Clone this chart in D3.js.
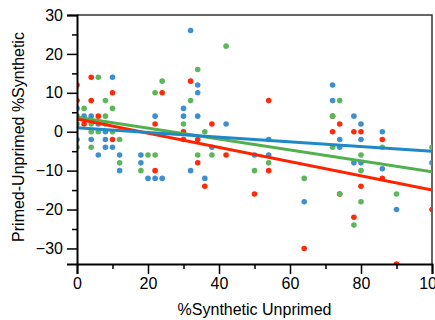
<!DOCTYPE html>
<html>
<head>
<meta charset="utf-8">
<script src="https://cdn.jsdelivr.net/npm/d3@7"></script>
<style>
  body { margin: 0; background: #fff; }
  svg { display: block; font-family: "Liberation Sans", Arial, Helvetica, sans-serif; }
</style>
</head>
<body>
<svg id="chart" width="435" height="320"></svg>
<script>
// data
var seriesNames = ["red", "green", "blue"];
var seriesColors = ["#ff2a0a", "#5cb65a", "#3f8fcf"];
var lineColors = ["#ff2200", "#52b04d", "#1f88c6"];

var redPoints = [[0,12],[0,8],[2,2],[4,14],[4,8],[6,4],[10,10],[10,-2],[22,2],[22,-10],[24,10],
  [30,0],[30,-2],[32,13],[34,-2],[34,-8],[36,-14],[38,2],[42,-6],[50,-16],[54,8],[54,-10],
  [64,-30],[72,4],[72,0],[74,2],[74,-16],[78,0],[78,-22],[80,0],[80,-14],[86,-2],[86,-12],
  [90,-34],[100,-20]];
var greenPoints = [[0,2],[0,-4],[2,6],[4,2],[4,0],[4,-4],[6,14],[6,0],[8,8],[8,4],[8,2],[10,6],
  [10,0],[12,-2],[12,-8],[18,-10],[20,-6],[22,10],[22,-6],[24,13],[30,2],[32,8],[34,16],[34,-6],
  [36,0],[38,-6],[42,22],[50,-10],[54,-8],[64,-12],[72,4],[72,-4],[74,8],[74,-16],[78,-24],
  [80,-6],[80,-10],[80,-18],[86,-4],[90,-16],[100,-4]];
var bluePoints = [[0,6],[0,4],[0,-2],[2,4],[4,4],[4,-2],[6,2],[6,-6],[8,0],[8,-2],[8,-4],[10,14],
  [10,-4],[12,-6],[12,-10],[18,-6],[18,-8],[20,-12],[22,4],[22,-12],[24,-12],[30,6],[30,4],
  [32,26],[32,-10],[34,12],[34,10],[34,4],[36,-12],[38,-4],[42,2],[50,-6],[54,-2],[54,-6],
  [64,-18],[72,12],[72,8],[74,-2],[74,-4],[78,4],[78,-8],[80,2],[80,-2],[80,-8],[86,0],
  [86,-9.5],[90,-20],[100,-8]];

// fitted lines: value at x=0 and slope per unit
var fitIntercepts = [3.3, 3.7, 1.0];
var fitSlopes = [-0.183, -0.14, -0.06];

var xTicks = [0, 20, 40, 60, 80, 100];
var xMinor = [10, 30, 50, 70, 90];
var yTicks = [-30, -20, -10, 0, 10, 20, 30];
var yMinor = [-25, -15, -5, 5, 15, 25];

var svg = d3.select("#chart");

var x = d3.scaleLinear().domain([0, 100]).range([77, 432]);
var y = d3.scaleLinear().domain([-34, 30]).range([264, 15]);

svg.append("clipPath")
  .attr("id", "plot-clip")
  .append("rect")
    .attr("x", x(0))
    .attr("y", y(30))
    .attr("width", x(100) - x(0))
    .attr("height", y(-34) - y(30));

// frame top and right
svg.append("path")
  .attr("d", "M" + x(0) + "," + y(30) + "H" + x(100) + "V" + y(-34))
  .style("fill", "none")
  .style("stroke", "#333")
  .style("stroke-width", 1.5);

var plot = svg.append("g").attr("clip-path", "url(#plot-clip)");

var allPoints = [redPoints, greenPoints, bluePoints];
allPoints.forEach(function (pts, i) {
  plot.append("g")
    .attr("class", "dots-" + seriesNames[i])
    .selectAll("circle")
    .data(pts)
    .enter().append("circle")
      .attr("cx", function (d) { return x(d[0]); })
      .attr("cy", function (d) { return y(d[1]); })
      .attr("r", 2.8)
      .style("fill", seriesColors[i]);
});

// regression lines, blue drawn last
var lineOrder = [1, 0, 2];
lineOrder.forEach(function (i) {
  plot.append("line")
    .attr("x1", x(0))
    .attr("y1", y(fitIntercepts[i]))
    .attr("x2", x(100))
    .attr("y2", y(fitIntercepts[i] + fitSlopes[i] * 100))
    .style("stroke", lineColors[i])
    .style("stroke-width", 3);
});

// axes
svg.append("g")
  .attr("transform", "translate(0," + y(-34) + ")")
  .call(d3.axisBottom(x).tickValues(xTicks).tickSize(10).tickPadding(4));
svg.append("g")
  .attr("transform", "translate(0," + y(-34) + ")")
  .call(d3.axisBottom(x).tickValues(xMinor).tickSize(5).tickFormat(""))
  .select(".domain").remove();

svg.append("g")
  .attr("transform", "translate(" + x(0) + ",0)")
  .call(d3.axisLeft(y).tickValues(yTicks).tickSize(10).tickPadding(4));
svg.append("g")
  .attr("transform", "translate(" + x(0) + ",0)")
  .call(d3.axisLeft(y).tickValues(yMinor).tickSize(5).tickFormat(""))
  .select(".domain").remove();

svg.selectAll(".domain").attr("stroke", "#000").attr("stroke-width", 2);
svg.selectAll(".tick line").attr("stroke", "#000").attr("stroke-width", 1.5);
svg.selectAll(".tick text")
  .style("font-size", "16px")
  .style("font-family", "'Liberation Sans', Arial, sans-serif")
  .attr("fill", "#000");

// titles
svg.append("text")
  .attr("x", (x(0) + x(100)) / 2)
  .attr("y", 315)
  .attr("text-anchor", "middle")
  .style("font-size", "16px")
  .text("%Synthetic Unprimed");

svg.append("text")
  .attr("transform", "translate(24,137) rotate(-90)")
  .attr("text-anchor", "middle")
  .style("font-size", "16px")
  .text("Primed-Unprimed %Synthetic");
</script>
</body>
</html>
